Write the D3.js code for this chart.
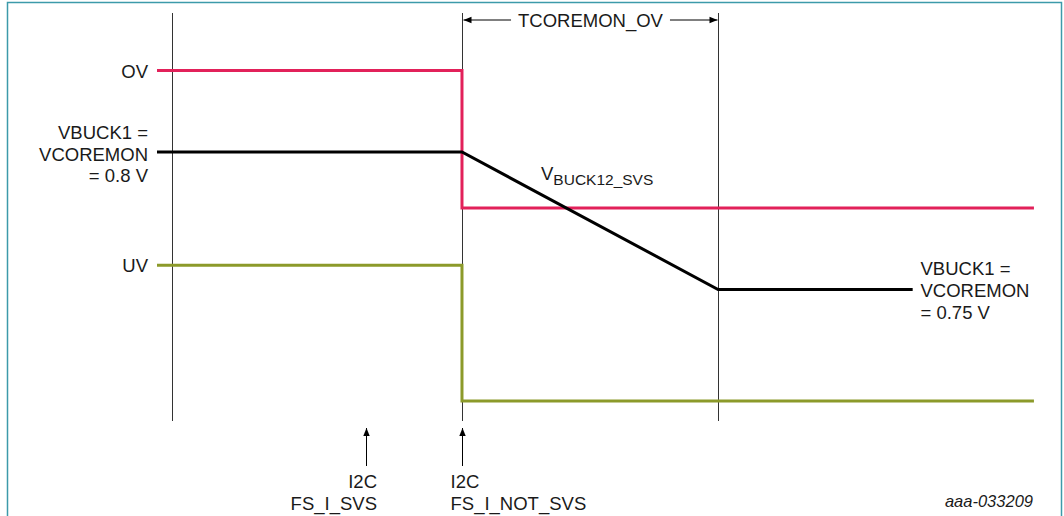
<!DOCTYPE html>
<html><head><meta charset="utf-8">
<script src="https://cdn.jsdelivr.net/npm/d3@7"></script>
<style>
html,body{margin:0;padding:0;background:#fff;}
svg{display:block;}
text{font-family:"Liberation Sans",Arial,Helvetica,sans-serif;fill:#1a1a1a;}
</style></head>
<body>
<svg id="c" width="1064" height="516"></svg>
<script>
// ---- data (time in arbitrary units, levels in volts) ----
const ovTimes   = [0, 33.7, 33.7, 96.9];
const ovLevels  = [0.8296, 0.8296, 0.7796, 0.7796];
const vbTimes   = [0, 33.7, 62.0, 83.5];
const vbLevels  = [0.8, 0.8, 0.75, 0.75];
const uvTimes   = [0, 33.7, 33.7, 96.9];
const uvLevels  = [0.7588, 0.7588, 0.7095, 0.7095];
const markerTimes = [1.66, 33.7, 62.0];          // vertical guide lines
const eventTimes  = [23.1, 33.7];                // I2C event arrows
const eventLabels = [["I2C","FS_I_SVS"],["I2C","FS_I_NOT_SVS"]];
const leftLabels  = [{lv:0.8296, t:["OV"]},
                     {lv:0.8, t:["VBUCK1 =","VCOREMON","= 0.8 V"]},
                     {lv:0.7588, t:["UV"]}];
const rightLabel  = ["VBUCK1 =","VCOREMON","= 0.75 V"];
const spanLabel   = "TCOREMON_OV";
const figId       = "aaa-033209";

const FS = 18.5;
const svg = d3.select("#c");
const x = d3.scaleLinear().domain([0,100]).range([157,1062]);
const y = d3.scaleLinear().domain([0.75,0.8]).range([289.5,152]);
const yTop = 13, yBot = 421;

// border
svg.append("path").attr("d","M7.5,520 V2.5 H1061.5 V520")
  .attr("fill","none").attr("stroke","#3c9aaa").attr("stroke-width",1.5);

// vertical guide lines
svg.selectAll("line.guide").data(markerTimes).join("line")
  .attr("x1",d=>Math.round(x(d))+0.5).attr("x2",d=>Math.round(x(d))+0.5)
  .attr("y1",yTop).attr("y2",yBot).attr("stroke","#333").attr("stroke-width",1);

const line = d3.line().x(d=>x(d[0])).y(d=>y(d[1]));
svg.append("path").datum(ovTimes.map((t,i)=>[t,ovLevels[i]]))
  .attr("d",line).attr("fill","none").attr("stroke","#e2215a").attr("stroke-width",3);
svg.append("path").datum(uvTimes.map((t,i)=>[t,uvLevels[i]]))
  .attr("d",line).attr("fill","none").attr("stroke","#8c9a2a").attr("stroke-width",3);
svg.append("path").datum(vbTimes.map((t,i)=>[t,vbLevels[i]]))
  .attr("d",line).attr("fill","none").attr("stroke","#000").attr("stroke-width",3);

// arrow markers
const defs = svg.append("defs");
defs.append("marker").attr("id","ah").attr("viewBox","0 0 10 10").attr("refX",10).attr("refY",5)
  .attr("markerWidth",10).attr("markerHeight",8).attr("markerUnits","userSpaceOnUse").attr("orient","auto")
  .append("path").attr("d","M0,1 L10,5 L0,9 Z").attr("fill","#000");

// span arrow
const xa = Math.round(x(markerTimes[1]))+0.5, xb = Math.round(x(markerTimes[2]))+0.5, ys = 20;
const xm = (xa+xb)/2;
const st = svg.append("text").attr("x",xm).attr("y",26.5).attr("text-anchor","middle")
  .attr("font-size",FS).text(spanLabel);
const sw = st.node().getComputedTextLength();
svg.append("line").attr("x1",xm-sw/2-7).attr("x2",xa+1).attr("y1",ys).attr("y2",ys)
  .attr("stroke","#000").attr("stroke-width",1).attr("marker-end","url(#ah)");
svg.append("line").attr("x1",xm+sw/2+7).attr("x2",xb-1).attr("y1",ys).attr("y2",ys)
  .attr("stroke","#000").attr("stroke-width",1).attr("marker-end","url(#ah)");

// event arrows
svg.selectAll("line.ev").data(eventTimes).join("line")
  .attr("x1",d=>Math.round(x(d))+0.5).attr("x2",d=>Math.round(x(d))+0.5)
  .attr("y1",466).attr("y2",428).attr("stroke","#000").attr("stroke-width",1)
  .attr("marker-end","url(#ah)");
eventTimes.forEach((t,i)=>{
  const xx = Math.round(x(t));
  const anchor = i===0 ? "end" : "start";
  const xt = i===0 ? xx+11 : xx-11.5;
  eventLabels[i].forEach((s,j)=>{
    svg.append("text").attr("x",xt).attr("y",487.5+j*22.5).attr("text-anchor",anchor)
      .attr("font-size",FS).text(s);
  });
});

// left labels
leftLabels.forEach(L=>{
  const n = L.t.length;
  const off = n===1 ? 7 : 8.5;
  L.t.forEach((s,j)=>{
    svg.append("text").attr("x",148).attr("y",y(L.lv)+off+(j-(n-1)/2)*21.5)
      .attr("text-anchor","end").attr("font-size",FS).text(s);
  });
});

// right label
rightLabel.forEach((s,j)=>{
  svg.append("text").attr("x",920.5).attr("y",y(0.75)+7+(j-1)*22)
    .attr("font-size",FS).text(s);
});

// V_BUCK12_SVS
const tv = svg.append("text").attr("x",541).attr("y",179.5).attr("font-size",FS);
tv.append("tspan").text("V");
tv.append("tspan").attr("font-size",15.5).attr("dy",5).text("BUCK12_SVS");

// figure id
svg.append("text").attr("x",1033).attr("y",507).attr("text-anchor","end")
  .attr("font-size",16.5).attr("font-style","italic").text(figId);
</script>
</body></html>
